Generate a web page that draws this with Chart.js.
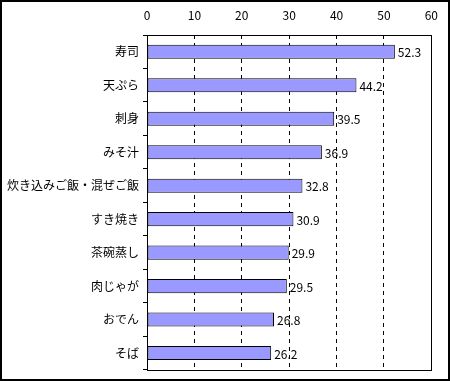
<!DOCTYPE html>
<html>
<head>
<meta charset="utf-8">
<script src="https://cdn.jsdelivr.net/npm/chart.js@4/dist/chart.umd.min.js"></script>
<style>
  html, body { margin: 0; padding: 0; background: #fff; }
  #wrap { width: 450px; height: 381px; }
</style>
</head>
<body>
<div id="wrap"><canvas id="chart" width="450" height="381"></canvas></div>
<script>
const dishes = ["寿司", "天ぷら", "刺身", "みそ汁", "炊き込みご飯・混ぜご飯", "すき焼き", "茶碗蒸し", "肉じゃが", "おでん", "そば"];
const percents = [52.3, 44.2, 39.5, 36.9, 32.8, 30.9, 29.9, 29.5, 26.8, 26.2];
const axisMin = 0;
const axisMax = 60;
const axisStep = 10;

const FONT = '"Noto Sans CJK JP", "Noto Sans", sans-serif';

// frame around plot area and whole picture, plus value labels
const extras = {
    id: "extras",
    afterDatasetsDraw(chart) {
        const ctx = chart.ctx;
        const meta = chart.getDatasetMeta(0);
        ctx.save();
        ctx.font = "12px " + FONT;
        ctx.fillStyle = "#000";
        ctx.textBaseline = "middle";
        ctx.textAlign = "left";
        meta.data.forEach((bar, i) => {
            ctx.fillText(percents[i].toFixed(1), bar.x + 3, bar.y + 1);
        });
        ctx.restore();
    },
    afterDraw(chart) {
        const ctx = chart.ctx;
        const a = chart.chartArea;
        ctx.save();
        ctx.strokeStyle = "#000";
        ctx.lineWidth = 1;
        ctx.strokeRect(Math.round(a.left) + 0.5, Math.round(a.top) + 0.5,
            Math.round(a.right - a.left), Math.round(a.bottom - a.top));
        ctx.lineWidth = 2;
        ctx.strokeRect(1, 1, chart.width - 2, chart.height - 2);
        ctx.restore();
    }
};

new Chart(document.getElementById("chart"), {
    type: "bar",
    data: {
        labels: dishes,
        datasets: [{
            data: percents,
            backgroundColor: "#9999FF",
            borderColor: "#000",
            borderWidth: 1,
            borderSkipped: false,
            categoryPercentage: 1,
            barPercentage: 0.42
        }]
    },
    options: {
        indexAxis: "y",
        responsive: false,
        animation: false,
        layout: { padding: { left: 0, top: 0, right: 17, bottom: 7 } },
        plugins: { legend: { display: false }, tooltip: { enabled: false } },
        scales: {
            x: {
                position: "top",
                min: axisMin,
                max: axisMax,
                afterFit: (s) => { s.height = 35; },
                ticks: { stepSize: axisStep, color: "#000", padding: 12, font: { family: FONT, size: 12 } },
                grid: { color: "#000", lineWidth: 1, drawTicks: false },
                border: { display: false, dash: [4, 4] }
            },
            y: {
                afterFit: (s) => { s.width = 147; },
                ticks: { color: "#000", padding: 4, font: { family: FONT, size: 12 } },
                grid: { offset: true, drawOnChartArea: false, color: "#000", tickLength: 4 },
                border: { display: false }
            }
        }
    },
    plugins: [extras]
});
</script>
</body>
</html>
